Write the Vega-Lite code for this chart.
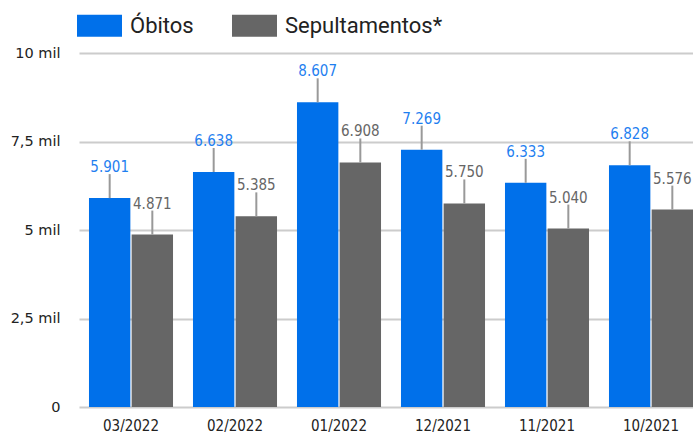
{
  "$schema": "https://vega.github.io/schema/vega-lite/v6.json",
  "autosize": {"type": "none"},
  "padding": {"left": 77, "top": 53, "right": 0, "bottom": 26},
  "width": 616,
  "height": 354,
  "config": {
    "view": {"stroke": null},
    "locale": {"number": {"decimal": ",", "thousands": ".", "grouping": [3], "currency": ["R$", ""]}},
    "font": "Roboto"
  },
  "data": {
    "values": [
      {"mes": "03/2022", "serie": "Óbitos", "valor": 5901},
      {"mes": "03/2022", "serie": "Sepultamentos*", "valor": 4871},
      {"mes": "02/2022", "serie": "Óbitos", "valor": 6638},
      {"mes": "02/2022", "serie": "Sepultamentos*", "valor": 5385},
      {"mes": "01/2022", "serie": "Óbitos", "valor": 8607},
      {"mes": "01/2022", "serie": "Sepultamentos*", "valor": 6908},
      {"mes": "12/2021", "serie": "Óbitos", "valor": 7269},
      {"mes": "12/2021", "serie": "Sepultamentos*", "valor": 5750},
      {"mes": "11/2021", "serie": "Óbitos", "valor": 6333},
      {"mes": "11/2021", "serie": "Sepultamentos*", "valor": 5040},
      {"mes": "10/2021", "serie": "Óbitos", "valor": 6828},
      {"mes": "10/2021", "serie": "Sepultamentos*", "valor": 5576}
    ]
  },
  "encoding": {
    "x": {
      "field": "mes", "type": "nominal", "sort": null, "title": null,
      "scale": {"range": [2, 626], "paddingInner": 0.192, "paddingOuter": 0.096},
      "axis": {"domain": false, "ticks": false, "labelAngle": 0, "labelFont": "DejaVu Sans Condensed, Roboto", "labelFontSize": 15, "labelColor": "#222222", "labelPadding": 11}
    },
    "xOffset": {
      "field": "serie", "type": "nominal", "sort": ["Óbitos", "Sepultamentos*"],
      "scale": {"paddingInner": 0.03}
    }
  },
  "layer": [
    {
      "mark": {"type": "bar", "clip": true},
      "encoding": {
        "y": {
          "field": "valor", "type": "quantitative", "title": null,
          "scale": {"domain": [0, 10000], "nice": false},
          "axis": {
            "values": [0, 2500, 5000, 7500, 10000],
            "labelExpr": "datum.value == 0 ? '0' : format(datum.value / 1000, '.1~f') + ' mil'",
            "domain": false, "ticks": false, "labelPadding": 17,
            "labelFont": "DejaVu Sans", "labelFontSize": 14.5, "labelColor": "#222222",
            "gridColor": "#cccccc", "gridWidth": 2
          }
        },
        "color": {
          "field": "serie", "type": "nominal", "sort": ["Óbitos", "Sepultamentos*"],
          "scale": {"domain": ["Óbitos", "Sepultamentos*"], "range": ["#0070ea", "#666666"]},
          "legend": {
            "orient": "top", "title": null, "direction": "horizontal",
            "symbolType": "M-1,-0.49H1V0.49H-1Z", "symbolSize": 2025, "symbolStrokeWidth": 0, "symbolOpacity": 1,
            "labelFont": "Roboto", "labelFontSize": 22, "labelColor": "#222222", "labelOffset": 8,
            "columnPadding": 38, "offset": 16, "padding": 0
          }
        }
      }
    },
    {
      "mark": {"type": "rule", "color": "#999999", "strokeWidth": 2, "y2Offset": -24},
      "encoding": {
        "y": {"field": "valor", "type": "quantitative"},
        "y2": {"field": "valor"}
      }
    },
    {
      "mark": {"type": "text", "dy": -26, "baseline": "alphabetic", "font": "DejaVu Sans Condensed, Roboto", "fontSize": 15},
      "encoding": {
        "y": {"field": "valor", "type": "quantitative"},
        "text": {"field": "valor", "type": "quantitative", "format": ",d"},
        "color": {"condition": {"test": "datum.serie == 'Óbitos'", "value": "#1f7ff0"}, "value": "#666666"}
      }
    },
    {
      "mark": {"type": "rule", "color": "#000000", "strokeWidth": 3},
      "encoding": {"y": {"datum": 0}}
    }
  ]
}
